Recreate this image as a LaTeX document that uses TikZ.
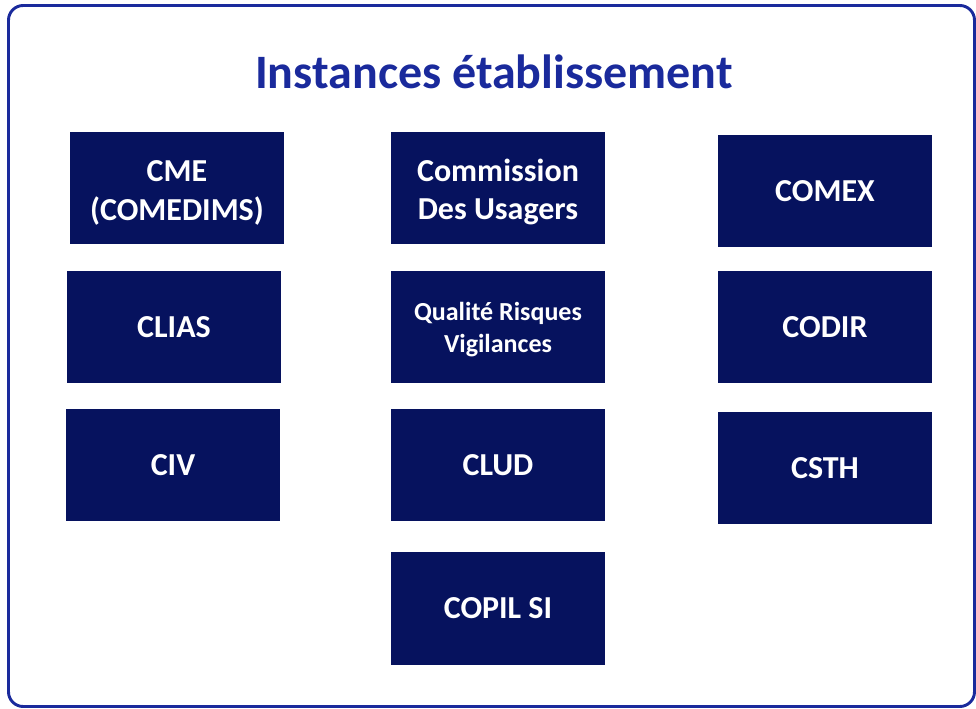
\documentclass[tikz,border=0pt]{standalone}
\usepackage{fontspec}
\setmainfont{Carlito}
\definecolor{boxblue}{HTML}{06125E}
\definecolor{titleblue}{HTML}{1A2A9C}
\definecolor{frameblue}{HTML}{1A2A9C}
\begin{document}
\begin{tikzpicture}[x=0.75pt,y=-0.75pt,
  inst/.style={fill=boxblue,minimum width=160.5pt,minimum height=84pt,inner sep=0pt,
    text=white,font=\bfseries\fontsize{24}{29}\selectfont,align=center},
  small/.style={font=\bfseries\fontsize{19.5}{24}\selectfont}]
\useasboundingbox (0,0) rectangle (976,709);
\draw[frameblue,line width=2.2pt,rounded corners=11pt] (8.5,5.5) rectangle (974.5,706.5);
\node[text=titleblue,font=\bfseries\fontsize{36}{42}\selectfont] (title) at (494,72) {Instances établissement};
\node[inst] (cme) at (177,188.5) {\rule{0pt}{22pt}CME\\(COMEDIMS)};
\node[inst] (cdu) at (498,188.5) {\rule{0pt}{22pt}Commission\\Des Usagers};
\node[inst] (comex) at (825,191.5) {COMEX};
\node[inst] (clias) at (174,327.5) {CLIAS};
\node[inst,small] (qrv) at (498,327.5) {\rule{0pt}{17pt}Qualité Risques\\Vigilances};
\node[inst] (codir) at (825,327.5) {CODIR};
\node[inst] (civ) at (173,465.5) {CIV};
\node[inst] (clud) at (498,465.5) {CLUD};
\node[inst] (csth) at (825,468.5) {CSTH};
\node[inst] (copil) at (498,608.5) {COPIL SI};
\end{tikzpicture}
\end{document}
